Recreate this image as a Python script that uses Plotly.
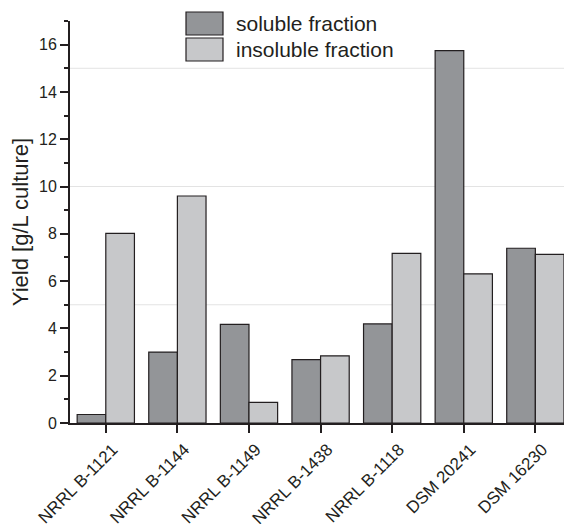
import plotly.graph_objects as go

# Strains and yields [g/L culture]
strains = ["NRRL B-1121", "NRRL B-1144", "NRRL B-1149", "NRRL B-1438",
           "NRRL B-1118", "DSM 20241", "DSM 16230"]
soluble = [0.36, 3.0, 4.17, 2.68, 4.19, 15.75, 7.39]
insoluble = [8.02, 9.6, 0.87, 2.84, 7.17, 6.31, 7.13]
series_names = ["soluble fraction", "insoluble fraction"]
grid_levels = [5, 10, 15]
y_ticks = [0, 2, 4, 6, 8, 10, 12, 14, 16]

FONT = "Liberation Sans, Arial, sans-serif"
DARK = "#231f20"
fills = ["#939598", "#c7c8ca"]

fig = go.Figure()
for name, vals, col in zip(series_names, [soluble, insoluble], fills):
    fig.add_trace(go.Bar(
        x=strains, y=vals, name=name,
        marker=dict(color=col, line=dict(color=DARK, width=1.2)),
        showlegend=False,
    ))

# light horizontal guide lines
for g in grid_levels:
    fig.add_shape(type="line", xref="paper", yref="y", x0=0, x1=1, y0=g, y1=g,
                  line=dict(color="#e3e3e3", width=1), layer="below")

# legend drawn as boxes with labels
box_x = [186, 223]
box_y = [[12, 35], [38, 61]]
W, H = 564, 524
ml, mr, mt, mb = 70, 0, 21, 101
pw, ph = W - ml - mr, H - mt - mb
for (y0, y1), name, col in zip(box_y, series_names, fills):
    fig.add_shape(type="rect", xref="paper", yref="paper",
                  x0=(box_x[0] - ml) / pw, x1=(box_x[1] - ml) / pw,
                  y0=1 - (y1 - mt) / ph, y1=1 - (y0 - mt) / ph,
                  fillcolor=col, line=dict(color=DARK, width=1.2))
    fig.add_annotation(xref="paper", yref="paper",
                       x=(box_x[1] + 11 - ml) / pw, y=1 - ((y0 + y1) / 2 - mt) / ph,
                       text=name, showarrow=False, xanchor="left", yanchor="middle",
                       font=dict(family=FONT, size=21, color=DARK))

fig.update_layout(
    width=W, height=H,
    margin=dict(l=ml, r=mr, t=mt, b=mb, pad=0, autoexpand=False),
    plot_bgcolor="white", paper_bgcolor="white",
    barmode="group", bargap=0.2, bargroupgap=0,
    font=dict(family=FONT, size=16, color=DARK),
)
fig.update_xaxes(
    range=[-0.5, 6.4], showgrid=False, zeroline=False, automargin=False,
    showline=True, linecolor=DARK, linewidth=2,
    ticks="outside", ticklen=8, tickwidth=1.5, tickcolor=DARK,
    tickangle=-45, ticklabelshift=7, ticklabelstandoff=0,
    tickfont=dict(family=FONT, size=17, color=DARK),
)
fig.update_yaxes(
    range=[0, 17], showgrid=False, zeroline=False, automargin=False,
    showline=True, linecolor=DARK, linewidth=2,
    tickvals=y_ticks, ticks="outside", ticklen=8, tickwidth=1.5, tickcolor=DARK,
    minor=dict(dtick=1, ticks="outside", ticklen=4, tickwidth=1.5, tickcolor=DARK),
    tickfont=dict(family=FONT, size=16, color=DARK),
    title=dict(text="Yield [g/L culture]", font=dict(family=FONT, size=22, color=DARK),
               standoff=4),
)

fig.write_html("out.html")
